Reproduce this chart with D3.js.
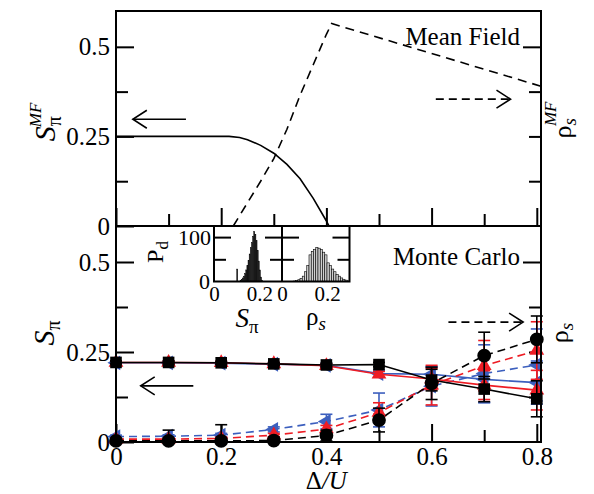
<!DOCTYPE html>
<html>
<head>
<meta charset="utf-8">
<script src="https://d3js.org/d3.v7.min.js"></script>
<style>
body { margin: 0; background: #fff; }
svg { display: block; font-family: "Liberation Serif", "Times New Roman", serif; }
</style>
</head>
<body>
<script>
var w = 594;
var h = 494;
var left = 116, right = 541;
var topY = 11, midY = 226, botY = 442;

// mean field curves (top panel)
var mfDeltaS = [0, 0.215, 0.235, 0.25, 0.275, 0.3, 0.325, 0.35, 0.375, 0.4, 0.405];
var mfS      = [0.25, 0.25, 0.247, 0.241, 0.225, 0.203, 0.172, 0.132, 0.077, 0.014, 0];
var mfDeltaRho = [0.223, 0.25, 0.275, 0.3, 0.325, 0.35, 0.375, 0.4, 0.41, 0.808];
var mfRho      = [0, 0.065, 0.125, 0.188, 0.27, 0.365, 0.45, 0.535, 0.565, 0.39];

// monte carlo (bottom panel)
var delta = [0, 0.1, 0.2, 0.3, 0.4, 0.5, 0.6, 0.7, 0.8];
var sBlack      = [0.221, 0.221, 0.220, 0.217, 0.214, 0.215, 0.172, 0.147, 0.120];
var sBlackErr   = [0.004, 0.004, 0.004, 0.004, 0.005, 0.006, 0.030, 0.035, 0.050];
var rhoBlack    = [0.003, 0.003, 0.003, 0.004, 0.018, 0.061, 0.163, 0.240, 0.285];
var rhoBlackErr = [0.004, 0.030, 0.045, 0.010, 0.015, 0.033, 0.045, 0.065, 0.065];
var sRed        = [0.221, 0.221, 0.220, 0.217, 0.212, 0.188, 0.175, 0.158, 0.144];
var sRedErr     = [0.004, 0.004, 0.004, 0.004, 0.005, 0.008, 0.030, 0.040, 0.055];
var rhoRed      = [0.008, 0.008, 0.010, 0.019, 0.036, 0.082, 0.158, 0.212, 0.254];
var rhoRedErr   = [0.003, 0.003, 0.004, 0.005, 0.010, 0.027, 0.055, 0.070, 0.080];
var sBlue       = [0.220, 0.220, 0.219, 0.216, 0.213, 0.190, 0.188, 0.174, 0.165];
var sBlueErr    = [0.004, 0.004, 0.004, 0.004, 0.005, 0.010, 0.020, 0.065, 0.060];
var rhoBlue     = [0.015, 0.016, 0.019, 0.035, 0.057, 0.089, 0.155, 0.190, 0.214];
var rhoBlueErr  = [0.004, 0.004, 0.005, 0.007, 0.020, 0.047, 0.055, 0.080, 0.100];

// inset histograms
var histSBin = [0.1, 0.115, 0.12, 0.125, 0.13, 0.135, 0.14, 0.145, 0.15, 0.155, 0.16,
                0.165, 0.17, 0.175, 0.18, 0.185, 0.19, 0.195, 0.2, 0.205, 0.21];
var histSCount = [28, 3, 5, 8, 12, 18, 26, 36, 48, 62, 76,
                  88, 102, 112, 106, 92, 70, 46, 26, 10, 3];
var histRhoBin = [0.05, 0.06, 0.07, 0.08, 0.09, 0.1, 0.11, 0.12, 0.13, 0.14, 0.15, 0.16,
                  0.17, 0.18, 0.19, 0.2, 0.21, 0.22, 0.23, 0.24, 0.25, 0.26, 0.27, 0.28, 0.29];
var histRhoCount = [1, 2, 4, 7, 12, 22, 36, 60, 68, 72, 77, 75,
                    72, 66, 60, 42, 36, 28, 22, 16, 12, 8, 5, 3, 1];

var xMinor = [0.1, 0.3, 0.5, 0.7];
var xMajor = [0, 0.2, 0.4, 0.6, 0.8];
var yMinor = [0.125, 0.375];
var yMajor = [0, 0.25, 0.5];
var rMinor = [0.125, 0.25, 0.375];
var rMajor = [0.5];

var blue = "#3c5fbe", red = "#ee1c24", black = "#000";

var svg = d3.select("body").append("svg")
    .attr("width", w)
    .attr("height", h);

svg.append("clipPath").attr("id", "clipBot")
    .append("rect").attr("x", left - 10).attr("y", midY).attr("width", right - left + 20)
    .attr("height", botY - midY);

var x = d3.scaleLinear().domain([0, 0.808]).range([left, right]);
var yTop = d3.scaleLinear().domain([0, 0.6]).range([midY, topY]);
var yBot = d3.scaleLinear().domain([0, 0.6]).range([botY, midY]);

function styleAxis(g, fs) {
    g.select(".domain").remove();
    g.selectAll("line").attr("stroke", "#000").attr("stroke-width", 2);
    g.selectAll("text")
        .attr("font-family", "Liberation Serif, Times New Roman, serif")
        .attr("font-size", fs)
        .attr("fill", "#000");
}

function fmt(d) { return String(d); }

// ---- ticks for both panels
[[yTop, midY, false], [yBot, botY, true]].forEach(function (p) {
    var ys = p[0];
    svg.append("g").attr("transform", "translate(0," + p[1] + ")")
        .call(d3.axisBottom(x).tickValues(xMinor).tickSize(-12).tickFormat(""))
        .call(styleAxis, 25);
    svg.append("g").attr("transform", "translate(0," + p[1] + ")")
        .call(d3.axisBottom(x).tickValues(xMajor).tickSize(-18).tickPadding(5)
              .tickFormat(p[2] ? fmt : ""))
        .call(styleAxis, 25);
    svg.append("g").attr("transform", "translate(" + left + ",0)")
        .call(d3.axisLeft(ys).tickValues(yMinor).tickSize(-12).tickFormat(""))
        .call(styleAxis, 25);
    svg.append("g").attr("transform", "translate(" + left + ",0)")
        .call(d3.axisLeft(ys).tickValues(yMajor).tickSize(-18).tickPadding(6).tickFormat(fmt))
        .call(styleAxis, 25);
    svg.append("g").attr("transform", "translate(" + right + ",0)")
        .call(d3.axisRight(ys).tickValues(rMinor).tickSize(-12).tickFormat(""))
        .call(styleAxis, 25);
    svg.append("g").attr("transform", "translate(" + right + ",0)")
        .call(d3.axisRight(ys).tickValues(rMajor).tickSize(-18).tickFormat(""))
        .call(styleAxis, 25);
});

// ---- top panel: mean field
var lineTop = d3.line()
    .x(function (d) { return x(d[0]); })
    .y(function (d) { return yTop(d[1]); });

svg.append("path")
    .datum(d3.zip(mfDeltaS, mfS))
    .attr("d", lineTop)
    .attr("fill", "none").attr("stroke", "#000").attr("stroke-width", 1.6);

svg.append("path")
    .datum(d3.zip(mfDeltaRho, mfRho))
    .attr("d", lineTop)
    .attr("fill", "none").attr("stroke", "#000").attr("stroke-width", 1.6)
    .attr("stroke-dasharray", "9,6");

// ---- bottom panel: monte carlo
var lineBot = d3.line()
    .x(function (d) { return x(d[0]); })
    .y(function (d) { return yBot(d[1]); });

var series = [
    { color: blue,  s: sBlue,  se: sBlueErr,  r: rhoBlue,  re: rhoBlueErr,
      ms: d3.symbolTriangle, mr: d3.symbolTriangle, rot: -90, size: 95, rsize: 95 },
    { color: red,   s: sRed,   se: sRedErr,   r: rhoRed,   re: rhoRedErr,
      ms: d3.symbolTriangle, mr: d3.symbolTriangle, rot: 0, size: 95, rsize: 95 },
    { color: black, s: sBlack, se: sBlackErr, r: rhoBlack, re: rhoBlackErr,
      ms: d3.symbolSquare, mr: d3.symbolCircle, rot: 0, size: 135, rsize: 150 }
];

series.forEach(function (sr) {
    var g = svg.append("g");
    g.append("path").datum(d3.zip(delta, sr.s)).attr("d", lineBot)
        .attr("fill", "none").attr("stroke", sr.color).attr("stroke-width", 1.6);
    g.append("path").datum(d3.zip(delta, sr.r)).attr("d", lineBot)
        .attr("fill", "none").attr("stroke", sr.color).attr("stroke-width", 1.6)
        .attr("stroke-dasharray", "8,5");

    // error bars are cut at the axis
    var bars = g.append("g").attr("clip-path", "url(#clipBot)");
    [[sr.s, sr.se], [sr.r, sr.re]].forEach(function (pair) {
        var pts = d3.zip(delta, pair[0], pair[1]);
        var eb = bars.append("g").selectAll("g").data(pts).enter().append("g");
        eb.append("line")
            .attr("x1", function (d) { return x(d[0]); })
            .attr("x2", function (d) { return x(d[0]); })
            .attr("y1", function (d) { return yBot(d[1] - d[2]); })
            .attr("y2", function (d) { return yBot(d[1] + d[2]); })
            .attr("stroke", sr.color).attr("stroke-width", 1.6);
        [-1, 1].forEach(function (sg) {
            eb.append("line")
                .attr("x1", function (d) { return x(d[0]) - 6; })
                .attr("x2", function (d) { return x(d[0]) + 6; })
                .attr("y1", function (d) { return yBot(d[1] + sg * d[2]); })
                .attr("y2", function (d) { return yBot(d[1] + sg * d[2]); })
                .attr("stroke", sr.color).attr("stroke-width", 1.6);
        });
    });

    g.selectAll(".ms").data(d3.zip(delta, sr.s)).enter().append("path")
        .attr("d", d3.symbol().type(sr.ms).size(sr.size))
        .attr("transform", function (d) {
            return "translate(" + x(d[0]) + "," + yBot(d[1]) + ") rotate(" + sr.rot + ")";
        })
        .attr("fill", sr.color);
    g.selectAll(".mr").data(d3.zip(delta, sr.r)).enter().append("path")
        .attr("d", d3.symbol().type(sr.mr).size(sr.rsize))
        .attr("transform", function (d) {
            return "translate(" + x(d[0]) + "," + yBot(d[1]) + ") rotate(" + sr.rot + ")";
        })
        .attr("fill", sr.color);
});

// ---- frame
svg.append("rect")
    .attr("x", left).attr("y", topY)
    .attr("width", right - left).attr("height", botY - topY)
    .attr("fill", "none").attr("stroke", "#000").attr("stroke-width", 2);
svg.append("line")
    .attr("x1", left).attr("x2", right).attr("y1", midY).attr("y2", midY)
    .attr("stroke", "#000").attr("stroke-width", 2);

// ---- arrows
function arrow(x1, x2, y, dashed) {
    var g = svg.append("g").attr("stroke", "#000").attr("stroke-width", 1.6).attr("fill", "none");
    g.append("line").attr("x1", x1).attr("x2", x2).attr("y1", y).attr("y2", y)
        .attr("stroke-dasharray", dashed ? "8,5" : null);
    var dir = x2 > x1 ? -1 : 1;
    g.append("polyline")
        .attr("points", (x2 + dir * 14) + "," + (y - 9) + " " + x2 + "," + y + " " + (x2 + dir * 14) + "," + (y + 9));
}
arrow(x(0.133), x(0.032), yTop(0.298), false);
arrow(x(0.608), x(0.75), yTop(0.354), true);
arrow(x(0.147), x(0.047), yBot(0.156), false);
arrow(x(0.632), x(0.774), yBot(0.333), true);

// ---- panel captions
svg.append("text").attr("x", x(0.768)).attr("y", yTop(0.505))
    .attr("text-anchor", "end").attr("font-size", 25).text("Mean Field");
svg.append("text").attr("x", x(0.768)).attr("y", yBot(0.492))
    .attr("text-anchor", "end").attr("font-size", 25).text("Monte Carlo");

// ---- axis titles
function rotLabel(cx, cy, build) {
    var t = svg.append("g").attr("transform", "translate(" + cx + "," + cy + ") rotate(-90)")
        .append("text").attr("text-anchor", "middle");
    build(t);
}
rotLabel(55, 122, function (t) {
    t.append("tspan").attr("font-style", "italic").attr("font-size", 30).text("S");
    t.append("tspan").attr("font-size", 20).attr("dy", 6).text("π");
    t.append("tspan").attr("font-style", "italic").attr("font-size", 17)
        .attr("dx", -11).attr("dy", -20).text("MF");
});
rotLabel(54, 333, function (t) {
    t.append("tspan").attr("font-style", "italic").attr("font-size", 30).text("S");
    t.append("tspan").attr("font-size", 20).attr("dy", 6).text("π");
});
rotLabel(571, 120, function (t) {
    t.append("tspan").attr("font-size", 26).text("ρ");
    t.append("tspan").attr("font-style", "italic").attr("font-size", 19).attr("dy", 5).text("s");
    t.append("tspan").attr("font-style", "italic").attr("font-size", 17)
        .attr("dx", -8).attr("dy", -20).text("MF");
});
rotLabel(568, 333, function (t) {
    t.append("tspan").attr("font-size", 26).text("ρ");
    t.append("tspan").attr("font-style", "italic").attr("font-size", 19).attr("dy", 5).text("s");
});

var xt = svg.append("text").attr("x", x(0.4)).attr("y", 489)
    .attr("text-anchor", "middle").attr("font-size", 25);
xt.append("tspan").text("Δ");
xt.append("tspan").attr("font-style", "italic").text("/U");

// ---- inset
var ix1 = d3.scaleLinear().domain([0, 0.3]).range([214, 282]);
var ix2 = d3.scaleLinear().domain([0, 0.3]).range([282, 349.5]);
var iy = d3.scaleLinear().domain([0, 125]).range([281.5, 226]);

svg.append("rect").attr("x", 214).attr("y", 226).attr("width", 135.5).attr("height", 55.5)
    .attr("fill", "#fff");

svg.append("g").selectAll("rect")
    .data(d3.zip(histSBin, histSCount)).enter().append("rect")
    .attr("x", function (d) { return ix1(d[0]); })
    .attr("width", function (d) { return ix1(d[0] + 0.005) - ix1(d[0]); })
    .attr("y", function (d) { return iy(d[1]); })
    .attr("height", function (d) { return iy(0) - iy(d[1]); })
    .attr("fill", "#222").attr("stroke", "#000").attr("stroke-width", 0.4);

svg.append("g").selectAll("rect")
    .data(d3.zip(histRhoBin, histRhoCount)).enter().append("rect")
    .attr("x", function (d) { return ix2(d[0]); })
    .attr("width", function (d) { return ix2(d[0] + 0.01) - ix2(d[0]); })
    .attr("y", function (d) { return iy(d[1]); })
    .attr("height", function (d) { return iy(0) - iy(d[1]); })
    .attr("fill", "#d0d0d0").attr("stroke", "#000").attr("stroke-width", 0.6);

[214, 282, 349.5].forEach(function (xx, i) {
    if (i < 2) {
        svg.append("g").attr("transform", "translate(" + xx + ",0)")
            .call(d3.axisLeft(iy).tickValues([100]).tickSize(-17)
                  .tickPadding(3).tickFormat(i === 0 ? fmt : ""))
            .call(styleAxis, 22);
        svg.append("g").attr("transform", "translate(" + xx + ",0)")
            .call(d3.axisLeft(iy).tickValues([50]).tickSize(-12).tickFormat(""))
            .call(styleAxis, 22);
    }
    if (i > 0) {
        svg.append("g").attr("transform", "translate(" + xx + ",0)")
            .call(d3.axisRight(iy).tickValues([100]).tickSize(-17).tickFormat(""))
            .call(styleAxis, 22);
        svg.append("g").attr("transform", "translate(" + xx + ",0)")
            .call(d3.axisRight(iy).tickValues([50]).tickSize(-12).tickFormat(""))
            .call(styleAxis, 22);
    }
});
svg.append("g").attr("transform", "translate(214,0)")
    .call(d3.axisLeft(iy).tickValues([0]).tickSize(0).tickPadding(4).tickFormat(fmt))
    .call(styleAxis, 22);

[ix1, ix2].forEach(function (sc) {
    svg.append("g").attr("transform", "translate(0,281.5)")
        .call(d3.axisBottom(sc).tickValues([0, 0.2]).tickSize(0).tickPadding(5).tickFormat(fmt))
        .call(styleAxis, 21);
});

svg.append("rect").attr("x", 214).attr("y", 226).attr("width", 135.5).attr("height", 55.5)
    .attr("fill", "none").attr("stroke", "#000").attr("stroke-width", 2);
svg.append("line").attr("x1", 282).attr("x2", 282).attr("y1", 226).attr("y2", 281.5)
    .attr("stroke", "#000").attr("stroke-width", 2);

var st = svg.append("text").attr("x", 247).attr("y", 327).attr("text-anchor", "middle");
st.append("tspan").attr("font-style", "italic").attr("font-size", 27).text("S");
st.append("tspan").attr("font-size", 19).attr("dy", 6).text("π");
var rt = svg.append("text").attr("x", 316).attr("y", 325).attr("text-anchor", "middle");
rt.append("tspan").attr("font-size", 25).text("ρ");
rt.append("tspan").attr("font-style", "italic").attr("font-size", 19).attr("dy", 5).text("s");

rotLabel(163, 252, function (t) {
    t.append("tspan").attr("font-size", 24).text("P");
    t.append("tspan").attr("font-size", 17).attr("dy", 5).text("d");
});
</script>
</body>
</html>
